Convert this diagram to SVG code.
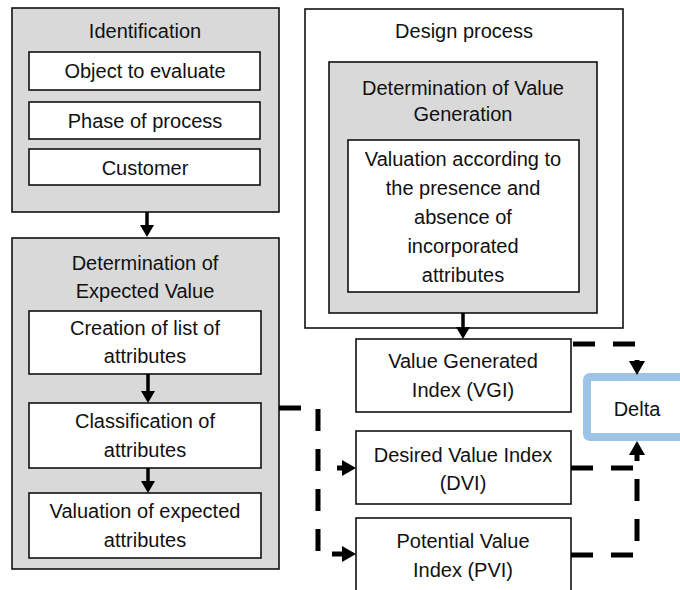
<svg xmlns="http://www.w3.org/2000/svg" width="680" height="590" viewBox="0 0 680 590">
  <style>
    .panel { fill: #d9d9d9; stroke: #111; stroke-width: 1.6; }
    .box { fill: #ffffff; stroke: #111; stroke-width: 1.6; }
    .delta { fill: #ffffff; stroke: #9dc3e6; stroke-width: 8; }
    text { font-family: "Liberation Sans", Arial, sans-serif; font-size: 20px; fill: #111; text-anchor: middle; }
    .solid { fill: none; stroke: #000; stroke-width: 3.5; }
    .dashed { fill: none; stroke: #000; stroke-width: 5; stroke-dasharray: 22 18; }
    .stub { fill: none; stroke: #000; stroke-width: 5; }
  </style>
  <defs>
    <marker id="headSolid" viewBox="0 0 12 14" markerWidth="12" markerHeight="14" markerUnits="userSpaceOnUse" refX="2" refY="7" orient="auto">
      <path d="M0,0 L12,7 L0,14 z" fill="#000"/>
    </marker>
    <marker id="headBold" viewBox="0 0 14 16" markerWidth="14" markerHeight="16" markerUnits="userSpaceOnUse" refX="4" refY="8" orient="auto">
      <path d="M0,0 L14,8 L0,16 z" fill="#000"/>
    </marker>
  </defs>

  <!-- Identification panel -->
  <g id="identification">
    <rect class="panel" x="12" y="8" width="267" height="204"/>
    <text x="145" y="38">Identification</text>
  </g>
  <g id="object-to-evaluate">
    <rect class="box" x="29" y="52" width="231" height="38"/>
    <text x="145" y="78">Object to evaluate</text>
  </g>
  <g id="phase-of-process">
    <rect class="box" x="29" y="102" width="231" height="37"/>
    <text x="145" y="128">Phase of process</text>
  </g>
  <g id="customer">
    <rect class="box" x="29" y="149" width="231" height="36"/>
    <text x="145" y="175">Customer</text>
  </g>

  <!-- Expected value panel -->
  <g id="expected-value">
    <rect class="panel" x="12" y="238" width="267" height="331"/>
    <text x="145" y="270">Determination of</text>
    <text x="145" y="298">Expected Value</text>
  </g>
  <g id="list-of-attributes">
    <rect class="box" x="29" y="311" width="232" height="63"/>
    <text x="145" y="335">Creation of list of</text>
    <text x="145" y="363">attributes</text>
  </g>
  <g id="classification">
    <rect class="box" x="29" y="403" width="232" height="65"/>
    <text x="145" y="428">Classification of</text>
    <text x="145" y="457">attributes</text>
  </g>
  <g id="valuation-expected">
    <rect class="box" x="29" y="493" width="232" height="65"/>
    <text x="145" y="518">Valuation of expected</text>
    <text x="145" y="547">attributes</text>
  </g>

  <!-- Design process -->
  <g id="design-process">
    <rect class="box" x="305" y="9" width="318" height="319"/>
    <text x="464" y="38">Design process</text>
  </g>
  <g id="value-generation">
    <rect class="panel" x="329" y="62" width="268" height="251"/>
    <text x="463" y="95">Determination of Value</text>
    <text x="463" y="121">Generation</text>
  </g>
  <g id="valuation-presence">
    <rect class="box" x="348" y="140" width="231" height="152"/>
    <text x="463" y="166">Valuation according to</text>
    <text x="463" y="195">the presence and</text>
    <text x="463" y="224">absence of</text>
    <text x="463" y="253">incorporated</text>
    <text x="463" y="282">attributes</text>
  </g>

  <!-- Indices -->
  <g id="vgi">
    <rect class="box" x="356" y="339" width="215" height="73"/>
    <text x="463" y="368">Value Generated</text>
    <text x="463" y="397">Index (VGI)</text>
  </g>
  <g id="dvi">
    <rect class="box" x="356" y="431" width="215" height="73"/>
    <text x="463" y="462">Desired Value Index</text>
    <text x="463" y="490">(DVI)</text>
  </g>
  <g id="pvi">
    <rect class="box" x="356" y="518" width="215" height="90"/>
    <text x="463" y="548">Potential Value</text>
    <text x="463" y="577">Index (PVI)</text>
  </g>
  <g id="delta">
    <rect class="delta" x="587" y="377" width="130" height="60" rx="3"/>
    <text x="637" y="416">Delta</text>
  </g>

  <!-- Connectors -->
  <g id="connectors">
    <path class="solid" d="M147,212 V227" marker-end="url(#headSolid)"/>
    <path class="solid" d="M148,374 V393" marker-end="url(#headSolid)"/>
    <path class="solid" d="M148,468 V483" marker-end="url(#headSolid)"/>
    <path class="solid" d="M463,313 V329" marker-end="url(#headSolid)"/>

    <path class="dashed" d="M279,408 H318 V553"/>
    <path class="stub" d="M337,468 H346" marker-end="url(#headBold)"/>
    <path class="stub" d="M332,554 H346" marker-end="url(#headBold)"/>

    <path class="dashed" d="M573,344 H637 V365" marker-end="url(#headBold)"/>
    <path class="dashed" d="M571,468 H633"/>
    <path class="dashed" d="M571,555 H637 V451" marker-end="url(#headBold)"/>
  </g>
</svg>
